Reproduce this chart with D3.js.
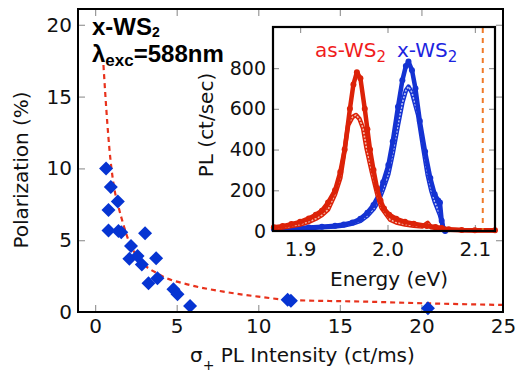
<!DOCTYPE html>
<html>
<head>
<meta charset="utf-8">
<script src="https://cdn.jsdelivr.net/npm/d3@7"></script>
<style>
  body { margin: 0; background: #fff; }
  svg { display: block; }
  text { font-family: "DejaVu Sans", sans-serif; }
</style>
</head>
<body>
<div id="chart"></div>
<script>
// main panel: polarization vs sigma+ PL intensity
var polX = [0.67, 0.96, 1.39, 0.82, 0.82, 1.43, 1.6, 3.06, 2.2, 2.1, 2.6, 2.86, 3.74, 3.82, 3.27, 4.8, 5.05, 5.82, 11.8, 12.0, 20.4];
var polY = [10.0, 8.7, 7.7, 7.1, 5.67, 5.64, 5.55, 5.48, 4.6, 3.7, 3.9, 3.3, 3.74, 2.35, 2.0, 1.58, 1.23, 0.42, 0.85, 0.79, 0.26];

// dashed fit curve
var fitX = [0.51, 0.75, 0.88, 1.12, 1.43, 1.74, 2.04, 2.76, 3.98, 5.82, 7.86, 10.0, 11.95, 16.6, 20.4, 25];
var fitY = [17.2, 13.1, 11.3, 8.97, 7.34, 6.06, 5.0, 3.62, 2.58, 1.88, 1.42, 1.07, 0.84, 0.72, 0.6, 0.49];

var xTicks = [0, 5, 10, 15, 20, 25];
var yTicks = [0, 5, 10, 15, 20];

// inset: PL spectra
var asFilledE = [1.870, 1.880, 1.890, 1.900, 1.910, 1.918, 1.925, 1.932, 1.940, 1.946, 1.951, 1.957, 1.961, 1.965, 1.969, 1.974, 1.977, 1.980, 1.984, 1.988, 1.992, 1.996, 2.002, 2.010, 2.020, 2.030, 2.045, 2.055, 2.062, 2.070, 2.085, 2.100, 2.123];
var asFilledI = [18, 24, 34, 45, 62, 80, 100, 140, 200, 290, 400, 600, 720, 780, 750, 600, 500, 400, 300, 210, 150, 110, 80, 60, 45, 36, 25, 20, 15, 8, 5, 4, 4];

var asOpenE = [1.870, 1.880, 1.890, 1.900, 1.910, 1.918, 1.925, 1.932, 1.940, 1.946, 1.950, 1.955, 1.960, 1.964, 1.968, 1.972, 1.976, 1.982, 1.988, 1.993, 2.003, 2.010, 2.020, 2.030, 2.040, 2.046, 2.050, 2.060, 2.070, 2.085, 2.100, 2.123];
var asOpenI = [12, 17, 24, 32, 45, 60, 78, 105, 180, 260, 370, 520, 560, 570, 550, 505, 406, 291, 185, 115, 55, 42, 32, 26, 22, 40, 18, 12, 6, 4, 3, 3];

var xFilledE = [1.870, 1.890, 1.910, 1.925, 1.940, 1.950, 1.960, 1.969, 1.977, 1.984, 1.990, 1.995, 2.001, 2.006, 2.012, 2.017, 2.021, 2.024, 2.028, 2.032, 2.037, 2.043, 2.049, 2.054, 2.058, 2.060, 2.062, 2.064, 2.066];
var xFilledI = [10, 13, 17, 21, 26, 32, 42, 60, 90, 128, 175, 240, 324, 440, 610, 740, 810, 832, 790, 700, 540, 390, 260, 180, 150, 140, 50, 10, 0];

var xOpenE = [1.870, 1.890, 1.910, 1.925, 1.940, 1.950, 1.960, 1.969, 1.977, 1.984, 1.990, 1.995, 2.001, 2.006, 2.012, 2.017, 2.021, 2.024, 2.028, 2.035, 2.041, 2.046, 2.050, 2.054, 2.060, 2.063, 2.065];
var xOpenI = [8, 10, 14, 18, 22, 27, 36, 50, 75, 108, 150, 205, 280, 380, 520, 630, 690, 709, 680, 570, 406, 275, 200, 144, 79, 30, 0];

var insetXTicks = [1.9, 2.0, 2.1];
var insetYTicks = [0, 200, 400, 600, 800];
var excEnergy = 2.109;

var W = 518, H = 372;
var svg = d3.select("#chart").append("svg").attr("width", W).attr("height", H);

var x = d3.scaleLinear().domain([-1.05, 25]).range([78, 503]);
var y = d3.scaleLinear().domain([0, 21.1]).range([312, 9]);

// ticks (inward) and labels
function tickLines(g) { g.select(".domain").remove(); g.selectAll("line").attr("stroke", "#999").attr("stroke-width", 1.2); }

svg.append("g").attr("transform", "translate(0,312)")
  .call(d3.axisTop(x).tickValues(xTicks.slice(0, 5)).tickSize(7).tickFormat("")).call(tickLines);
svg.append("g").attr("transform", "translate(0,9)")
  .call(d3.axisBottom(x).tickValues(xTicks.slice(0, 5)).tickSize(7).tickFormat("")).call(tickLines);
svg.append("g").attr("transform", "translate(78,0)")
  .call(d3.axisRight(y).tickValues(yTicks.slice(1)).tickSize(7).tickFormat("")).call(tickLines);
svg.append("g").attr("transform", "translate(503,0)")
  .call(d3.axisLeft(y).tickValues(yTicks.slice(1)).tickSize(7).tickFormat("")).call(tickLines);

var xl = svg.append("g").attr("transform", "translate(0,312)")
  .call(d3.axisBottom(x).tickValues(xTicks).tickSize(0).tickPadding(7).tickFormat(d3.format("d")));
xl.select(".domain").remove();
xl.selectAll("text").attr("font-size", 20).attr("fill", "#111");

var yl = svg.append("g").attr("transform", "translate(78,0)")
  .call(d3.axisLeft(y).tickValues(yTicks).tickSize(0).tickPadding(6).tickFormat(d3.format("d")));
yl.select(".domain").remove();
yl.selectAll("text").attr("font-size", 20).attr("fill", "#111");

// fit curve
var fitLine = d3.line().x(function(d, i) { return x(fitX[i]); }).y(function(d) { return y(d); }).curve(d3.curveMonotoneX);
svg.append("path").attr("d", fitLine(fitY))
  .attr("fill", "none").attr("stroke", "#e8321c").attr("stroke-width", 2.2).attr("stroke-dasharray", "5,4");

// diamonds
svg.append("g").selectAll("path").data(polY).enter().append("path")
  .attr("d", d3.symbol().type(d3.symbolSquare).size(98))
  .attr("transform", function(d, i) { return "translate(" + x(polX[i]) + "," + y(d) + ")rotate(45)"; })
  .attr("fill", "#0634d2");

// frame
svg.append("rect").attr("x", 78).attr("y", 9).attr("width", 425).attr("height", 303)
  .attr("fill", "none").attr("stroke", "#000").attr("stroke-width", 2);

// titles (bold Helvetica-like)
var t1 = svg.append("text").attr("x", 92).attr("y", 35)
  .style("font-family", "'Liberation Sans', Arial, sans-serif").attr("font-weight", "bold").attr("font-size", 24).attr("fill", "#000");
t1.append("tspan").text("x-WS");
t1.append("tspan").attr("font-size", 14).attr("dy", 2).text("2");

var t2 = svg.append("text").attr("x", 92).attr("y", 62)
  .style("font-family", "'Liberation Sans', Arial, sans-serif").attr("font-weight", "bold").attr("font-size", 24).attr("fill", "#000");
t2.append("tspan").text("λ");
t2.append("tspan").attr("font-size", 17).attr("dy", 4).text("exc");
t2.append("tspan").attr("dy", -4).text("=588nm");

// axis titles
svg.append("text").attr("transform", "translate(28,170)rotate(-90)")
  .attr("text-anchor", "middle").attr("font-size", 20).attr("fill", "#111").text("Polarization (%)");

var xt = svg.append("text").attr("x", 190).attr("y", 362).attr("font-size", 20).attr("fill", "#111");
xt.append("tspan").text("σ");
xt.append("tspan").attr("font-size", 14).attr("dy", 8).text("+");
xt.append("tspan").attr("dy", -8).text(" PL Intensity (ct/ms)");

// ---- inset ----
var ix = d3.scaleLinear().domain([1.869, 2.123]).range([273, 495]);
var iy = d3.scaleLinear().domain([0, 1002]).range([231, 27]);

svg.append("rect").attr("x", 273).attr("y", 27).attr("width", 222).attr("height", 204).attr("fill", "#fff");

svg.append("g").attr("transform", "translate(0,231)")
  .call(d3.axisTop(ix).tickValues(insetXTicks).tickSize(6).tickFormat("")).call(tickLines);
svg.append("g").attr("transform", "translate(0,27)")
  .call(d3.axisBottom(ix).tickValues(insetXTicks).tickSize(6).tickFormat("")).call(tickLines);
svg.append("g").attr("transform", "translate(273,0)")
  .call(d3.axisRight(iy).tickValues(insetYTicks.slice(1)).tickSize(6).tickFormat("")).call(tickLines);
svg.append("g").attr("transform", "translate(495,0)")
  .call(d3.axisLeft(iy).tickValues(insetYTicks.slice(1)).tickSize(6).tickFormat("")).call(tickLines);

var ixl = svg.append("g").attr("transform", "translate(0,231)")
  .call(d3.axisBottom(ix).tickValues(insetXTicks).tickSize(0).tickPadding(11).tickFormat(d3.format(".1f")));
ixl.select(".domain").remove();
ixl.selectAll("text").attr("font-size", 20).attr("fill", "#111");

var iyl = svg.append("g").attr("transform", "translate(273,0)")
  .call(d3.axisLeft(iy).tickValues(insetYTicks).tickSize(0).tickPadding(7).tickFormat(d3.format("d")));
iyl.select(".domain").remove();
iyl.selectAll("text").attr("font-size", 19).attr("fill", "#111");

function specLine(E) {
  return d3.line().x(function(d, i) { return ix(E[i]); }).y(function(d) { return iy(d); });
}

var plot = svg.append("g");
function openSeries(E, I, col, inner) {
  plot.append("path").attr("d", specLine(E)(I)).attr("fill", "none").attr("stroke", col)
    .attr("stroke-width", 4.5).attr("stroke-linejoin", "round").attr("stroke-linecap", "round");
  plot.append("path").attr("d", specLine(E)(I)).attr("fill", "none").attr("stroke", inner)
    .attr("stroke-width", 1.6).attr("stroke-dasharray", "2,1.5");
}
function filledSeries(E, I, col) {
  plot.append("path").attr("d", specLine(E)(I)).attr("fill", "none").attr("stroke", col)
    .attr("stroke-width", 4.5).attr("stroke-linejoin", "round").attr("stroke-linecap", "round");
  plot.append("g").selectAll("circle").data(I).enter().append("circle")
    .attr("cx", function(d, i) { return ix(E[i]); }).attr("cy", function(d) { return iy(d); })
    .attr("r", 3).attr("fill", col);
}

openSeries(xOpenE, xOpenI, "#1432d2", "#b8c2f4");
filledSeries(xFilledE, xFilledI, "#1432d2");
openSeries(asOpenE, asOpenI, "#dc2208", "#f4b8a8");
filledSeries(asFilledE, asFilledI, "#dc2208");

// excitation line
svg.append("line").attr("x1", ix(excEnergy)).attr("x2", ix(excEnergy)).attr("y1", 28).attr("y2", 230)
  .attr("stroke", "#f07a28").attr("stroke-width", 2).attr("stroke-dasharray", "5,5");

svg.append("rect").attr("x", 273).attr("y", 27).attr("width", 222).attr("height", 204)
  .attr("fill", "none").attr("stroke", "#000").attr("stroke-width", 2.2);

// legend
var la = svg.append("text").attr("x", 315).attr("y", 57).attr("font-size", 20).attr("fill", "#f01c1c");
la.append("tspan").text("as-WS");
la.append("tspan").attr("font-size", 15).attr("dy", 5).text("2");
var lb = svg.append("text").attr("x", 397).attr("y", 57).attr("font-size", 20).attr("fill", "#1c24e0");
lb.append("tspan").text("x-WS");
lb.append("tspan").attr("font-size", 15).attr("dy", 5).text("2");

// inset axis titles
svg.append("text").attr("transform", "translate(213,125)rotate(-90)")
  .attr("text-anchor", "middle").attr("font-size", 20).attr("fill", "#111").text("PL (ct/sec)");
svg.append("text").attr("x", 389).attr("y", 286)
  .attr("text-anchor", "middle").attr("font-size", 20).attr("fill", "#111").text("Energy (eV)");
</script>
</body>
</html>
